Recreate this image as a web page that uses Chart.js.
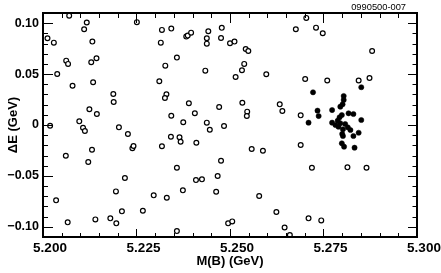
<!DOCTYPE html>
<html>
<head>
<meta charset="utf-8">
<script src="https://cdn.jsdelivr.net/npm/chart.js@4/dist/chart.umd.min.js"></script>
<style>
  html, body { margin: 0; padding: 0; background: #fff; }
  #wrap { width: 441px; height: 273px; }
</style>
</head>
<body>
<div id="wrap"><canvas id="c" width="441" height="273"></canvas></div>
<script>
// background candidates (open circles): [M(B), dE]
const bgPoints = [
  [5.2070, 0.1074], [5.2117, 0.1006], [5.2110, 0.0941], [5.2251, 0.1010], [5.2012, 0.0852],
  [5.2029, 0.0809], [5.2132, 0.0819], [5.2062, 0.0632], [5.2067, 0.0600], [5.2129, 0.0616],
  [5.2143, 0.0656], [5.2038, 0.0501], [5.2134, 0.0420], [5.2079, 0.0386], [5.2188, 0.0305],
  [5.2189, 0.0226], [5.2124, 0.0154], [5.2144, 0.0108], [5.2019, -0.0007], [5.2097, 0.0036],
  [5.2107, -0.0027], [5.2112, -0.0059], [5.2203, -0.0023], [5.2227, -0.0088],
  [5.2318, 0.0934], [5.2343, 0.0947], [5.2383, 0.0868], [5.2387, 0.0878], [5.2396, 0.0907],
  [5.2442, 0.0921], [5.2478, 0.0954], [5.2315, 0.0809], [5.2438, 0.0852], [5.2438, 0.0799],
  [5.2476, 0.0855], [5.2500, 0.0803], [5.2512, 0.0819], [5.2542, 0.0747], [5.2549, 0.0727],
  [5.2358, 0.0662], [5.2327, 0.0583], [5.2538, 0.0600], [5.2532, 0.0538], [5.2434, 0.0534],
  [5.2515, 0.0472], [5.2597, 0.0498], [5.2311, 0.0430], [5.2330, 0.0302], [5.2326, 0.0265],
  [5.2390, 0.0213], [5.2471, 0.0177], [5.2533, 0.0219], [5.2633, 0.0203], [5.2640, 0.0138],
  [5.2546, 0.0131], [5.2545, 0.0088], [5.2343, 0.0091], [5.2406, 0.0115], [5.2375, 0.0027],
  [5.2438, 0.0023], [5.2446, -0.0046], [5.2484, -0.0010], [5.2342, -0.0115], [5.2365, -0.0121],
  [5.2704, 0.1052], [5.2676, 0.0941], [5.2730, 0.0956], [5.2748, 0.0901], [5.2880, 0.0727],
  [5.2701, 0.0452], [5.2760, 0.0437], [5.2844, 0.0437], [5.2873, 0.0462], [5.2689, 0.0095],
  [5.2689, -0.0197], [5.2719, -0.0420], [5.2814, -0.0416], [5.2865, -0.0420], [5.2710, -0.0917],
  [5.2744, -0.0937], [5.2660, -0.1081],
  [5.2061, -0.0302], [5.2131, -0.0243], [5.2121, -0.0364], [5.2239, -0.0229], [5.2242, -0.0206],
  [5.2219, -0.0521], [5.2195, -0.0652], [5.2035, -0.0740], [5.2211, -0.0848], [5.2267, -0.0842],
  [5.2066, -0.0956], [5.2140, -0.0927], [5.2180, -0.0917], [5.2196, -0.0966],
  [5.2368, -0.0164], [5.2318, -0.0209], [5.2410, -0.0174], [5.2558, -0.0236], [5.2588, -0.0253],
  [5.2358, -0.0420], [5.2476, -0.0351], [5.2409, -0.0541], [5.2425, -0.0534], [5.2467, -0.0501],
  [5.2374, -0.0642], [5.2463, -0.0656], [5.2296, -0.0691], [5.2331, -0.0715], [5.2578, -0.0698],
  [5.2624, -0.0855], [5.2495, -0.0966], [5.2506, -0.0947], [5.2358, -0.1042], [5.2646, -0.1006]
];

// signal candidates (filled dots)
const sigPoints = [
  [5.2851, 0.0371], [5.2722, 0.0321], [5.2804, 0.0285], [5.2804, 0.0246], [5.2801, 0.0203],
  [5.2795, 0.0180], [5.2734, 0.0141], [5.2737, 0.0088], [5.2773, 0.0147], [5.2817, 0.0115],
  [5.2830, 0.0108], [5.2799, 0.0098], [5.2851, 0.0049], [5.2710, 0.0023], [5.2773, 0.0023],
  [5.2793, 0.0076], [5.2788, 0.0042], [5.2782, 0.0000], [5.2795, 0.0017], [5.2808, 0.0010],
  [5.2815, -0.0023], [5.2822, -0.0049], [5.2802, -0.0042], [5.2800, -0.0088], [5.2844, -0.0076],
  [5.2830, -0.0108], [5.2799, -0.0180], [5.2805, -0.0213], [5.2833, -0.0223], [5.2802, -0.0108],
  [5.2790, -0.0017]
];

const xTicks = [5.200, 5.225, 5.250, 5.275, 5.300];
const xTickLabels = ["5.200", "5.225", "5.250", "5.275", "5.300"];
const yTicks = [-0.10, -0.05, 0, 0.05, 0.10];
const yTickLabels = ["\u22120.10", "\u22120.05", "0", "0.05", "0.10"];

const toXY = arr => arr.map(p => ({ x: p[0], y: p[1] }));

// frame + inward ticks on all four sides, ROOT style
const framePlugin = {
    id: "frame",
    afterDatasetsDraw(chart) {
        const { ctx, chartArea: a, scales: { x, y } } = chart;
        ctx.save();
        ctx.strokeStyle = "#000";
        ctx.lineWidth = 1;
        ctx.beginPath();
        for (let v = 5.200; v <= 5.3001; v += 0.005) {
            const px = Math.round(x.getPixelForValue(v)) + 0.5;
            const major = Math.abs(v * 1000 - Math.round(v * 40) * 25) < 0.01;
            ctx.moveTo(px, a.bottom);
            ctx.lineTo(px, a.bottom - (major ? 8 : 4));
            ctx.moveTo(px, a.top);
            ctx.lineTo(px, a.top + (major ? 10 : 5));
        }
        for (let i = -11; i <= 11; i++) {
            const v = i / 100;
            const py = Math.round(y.getPixelForValue(v)) + 0.5;
            const major = i % 5 === 0;
            ctx.moveTo(a.left, py);
            ctx.lineTo(a.left + (major ? 10 : 5), py);
            ctx.moveTo(a.right, py);
            ctx.lineTo(a.right - (major ? 9 : 4.5), py);
        }
        ctx.stroke();
        ctx.lineWidth = 2;
        ctx.strokeRect(a.left, a.top, a.right - a.left, a.bottom - a.top);
        ctx.fillStyle = "#000";
        ctx.font = "9.3px 'Liberation Sans', Arial, sans-serif";
        ctx.textAlign = "right";
        ctx.textBaseline = "middle";
        ctx.fillText("0990500-007", 406, 7.5);
        ctx.restore();
    }
};

const tickFont = { family: "'Liberation Sans', Arial, sans-serif", weight: "bold", size: 13 };

new Chart(document.getElementById("c"), {
    type: "scatter",
    data: {
        datasets: [
            {
                label: "background",
                data: toXY(bgPoints),
                pointStyle: "circle",
                pointRadius: 2.4,
                pointBorderWidth: 1.2,
                pointBackgroundColor: "#fff",
                pointBorderColor: "#000"
            },
            {
                label: "signal",
                data: toXY(sigPoints),
                pointStyle: "circle",
                pointRadius: 2.6,
                pointBorderWidth: 0.5,
                pointBackgroundColor: "#000",
                pointBorderColor: "#000"
            }
        ]
    },
    options: {
        responsive: false,
        animation: false,
        events: [],
        layout: { padding: { left: 0, right: 24, top: 13, bottom: 0 } },
        plugins: { legend: { display: false }, tooltip: { enabled: false } },
        scales: {
            x: {
                type: "linear",
                min: 5.200,
                max: 5.300,
                grid: { display: false, drawTicks: false },
                border: { display: false },
                afterFit: s => { s.height = 36; },
                afterBuildTicks: s => { s.ticks = xTicks.map(v => ({ value: v })); },
                ticks: {
                    color: "#000",
                    font: { ...tickFont, size: 13.5 },
                    padding: 3,
                    labelOffset: 7,
                    autoSkip: false,
                    maxRotation: 0,
                    callback: (v, i) => xTickLabels[i]
                },
                title: {
                    display: true,
                    text: "M(B) (GeV)",
                    color: "#000",
                    font: tickFont,
                    padding: { top: 0, bottom: 4 }
                }
            },
            y: {
                type: "linear",
                min: -0.11,
                max: 0.11,
                grid: { display: false, drawTicks: false },
                border: { display: false },
                afterFit: s => { s.width = 43; },
                afterBuildTicks: s => { s.ticks = yTicks.map(v => ({ value: v })); },
                ticks: {
                    color: "#000",
                    font: { ...tickFont, size: 12.5 },
                    padding: 4,
                    autoSkip: false,
                    callback: (v, i) => yTickLabels[i]
                },
                title: {
                    display: true,
                    text: "\u0394E (GeV)",
                    color: "#000",
                    font: tickFont,
                    padding: { top: 6, bottom: 0 }
                }
            }
        }
    },
    plugins: [framePlugin]
});
</script>
</body>
</html>
